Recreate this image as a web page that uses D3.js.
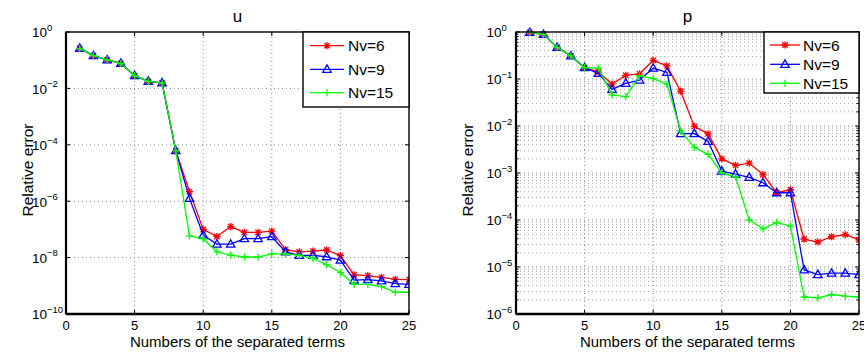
<!DOCTYPE html>
<html>
<head>
<meta charset="utf-8">
<script src="https://cdn.jsdelivr.net/npm/d3@7"></script>
<style>
  html, body { margin: 0; padding: 0; background: #fff; }
  svg { display: block; }
  text { font-family: "Liberation Sans", Arial, Helvetica, sans-serif; fill: #000; }
</style>
</head>
<body>
<svg id="chart" width="864" height="352"></svg>
<script>
// ---------------- data ----------------
const terms = [1,2,3,4,5,6,7,8,9,10,11,12,13,14,15,16,17,18,19,20,21,22,23,24,25];
const seriesNames = ["Nv=6", "Nv=9", "Nv=15"];
const seriesColors = ["#ff0000", "#0000ff", "#00ff00"];
const seriesMarkers = ["star", "triangle", "plus"];

// panel u
const uNv6  = [0.264,0.145,0.102,0.0776,0.0282,0.0178,0.0158,6.2e-5,2.2e-6,1.0e-7,5.6e-8,1.26e-7,7.9e-8,7.9e-8,8.7e-8,1.9e-8,1.6e-8,1.7e-8,1.86e-8,1.17e-8,2.45e-9,2.3e-9,2.0e-9,1.7e-9,1.66e-9];
const uNv9  = [0.264,0.145,0.102,0.0776,0.0282,0.0178,0.0158,6.2e-5,1.26e-6,6.3e-8,3.0e-8,3.0e-8,4.7e-8,4.7e-8,5.5e-8,1.6e-8,1.2e-8,1.2e-8,1.07e-8,8.1e-9,1.6e-9,1.66e-9,1.5e-9,1.2e-9,1.12e-9];
const uNv15 = [0.264,0.145,0.102,0.0776,0.0282,0.0178,0.0158,6.2e-5,5.9e-8,4.6e-8,1.6e-8,1.23e-8,1.05e-8,1.05e-8,1.35e-8,1.35e-8,1.2e-8,9.3e-9,5.6e-9,2.95e-9,1.12e-9,1.12e-9,9.3e-10,5.9e-10,5.9e-10];

// panel p
const pNv6  = [0.98,0.89,0.47,0.31,0.174,0.141,0.078,0.12,0.129,0.25,0.19,0.055,0.0098,0.0068,0.002,0.00145,0.00162,0.00093,0.00038,0.00044,3.9e-5,3.4e-5,4.4e-5,4.9e-5,3.8e-5];
const pNv9  = [0.98,0.89,0.47,0.31,0.174,0.132,0.060,0.081,0.095,0.17,0.138,0.0069,0.0069,0.0047,0.0011,0.00095,0.00081,0.00062,0.00038,0.00038,8.7e-6,6.9e-6,7.4e-6,7.4e-6,6.9e-6];
const pNv15 = [0.98,0.89,0.47,0.31,0.174,0.17,0.046,0.042,0.117,0.102,0.078,0.0079,0.0035,0.0025,0.001,0.00083,0.0001,6.5e-5,8.9e-5,7.4e-5,2.3e-6,2.2e-6,2.6e-6,2.4e-6,2.3e-6];

const xTicks = [0,5,10,15,20,25];
const uYTickExps = [0,-2,-4,-6,-8,-10];
const pYTickExps = [0,-1,-2,-3,-4,-5,-6];
const titles = ["u", "p"];
const xLabel = "Numbers of the separated terms";
const yLabel = "Relative error";

// ---------------- layout ----------------
const svg = d3.select("#chart");

const panels = [
  { title: titles[0], series: [uNv6, uNv9, uNv15], yDomain: [1e-10, 1], yExps: uYTickExps,
    x0: 66, x1: 409, y0: 314, y1: 32, minorGrid: false, labelDx: -34, yLabelX: 33,
    legend: { x: 303, y: 32, w: 106, h: 75, rows: [45.7, 69.3, 92.7], lx0: 310, lx1: 344, tx: 348 } },
  { title: titles[1], series: [pNv6, pNv9, pNv15], yDomain: [1e-6, 1], yExps: pYTickExps,
    x0: 516, x1: 859, y0: 314, y1: 32, minorGrid: true, labelDx: -29.5, yLabelX: 473,
    legend: { x: 764, y: 32, w: 95, h: 61, rows: [45, 64.3, 83.3], lx0: 770, lx1: 800, tx: 803 } }
];

function drawMarker(g, type, x, y, color) {
  const s = 3.6;
  let d;
  if (type === "star") {
    const k = s * 0.75;
    d = `M${x - s},${y}L${x + s},${y}M${x},${y - s}L${x},${y + s}M${x - k},${y - k}L${x + k},${y + k}M${x - k},${y + k}L${x + k},${y - k}`;
  } else if (type === "triangle") {
    d = `M${x},${y - 4.4}L${x + 4.2},${y + 3}L${x - 4.2},${y + 3}Z`;
  } else {
    d = `M${x - s},${y}L${x + s},${y}M${x},${y - s}L${x},${y + s}`;
  }
  g.append("path").attr("d", d).attr("fill", "none")
    .attr("stroke", color).attr("stroke-width", 1.3);
}

panels.forEach((P, pi) => {
  const x = d3.scaleLinear().domain([0, 25]).range([P.x0, P.x1]);
  const y = d3.scaleLog().domain(P.yDomain).range([P.y0, P.y1]);
  const g = svg.append("g");

  // minor grid (p panel)
  if (P.minorGrid) {
    const minors = [];
    for (let e = P.yExps[P.yExps.length - 1]; e < 0; e++) {
      for (let k = 2; k <= 9; k++) minors.push(k * Math.pow(10, e));
    }
    g.selectAll(".mg").data(minors).enter().append("line")
      .attr("x1", P.x0).attr("x2", P.x1)
      .attr("y1", d => y(d)).attr("y2", d => y(d))
      .attr("stroke", "#a8a8a8").attr("stroke-width", 1)
      .attr("stroke-dasharray", "1,3");
    minors.forEach(v => {
      g.append("line").attr("x1", P.x0).attr("x2", P.x0 + 2.5).attr("y1", y(v)).attr("y2", y(v)).attr("stroke", "#000");
      g.append("line").attr("x1", P.x1).attr("x2", P.x1 - 2.5).attr("y1", y(v)).attr("y2", y(v)).attr("stroke", "#000");
    });
  }

  // major grid
  xTicks.filter(t => t > 0 && t < 25).forEach(t => {
    g.append("line").attr("x1", x(t)).attr("x2", x(t)).attr("y1", P.y0).attr("y2", P.y1)
      .attr("stroke", "#8a8a8a").attr("stroke-width", 1).attr("stroke-dasharray", "1,3");
  });
  P.yExps.filter(e => e < 0 && Math.pow(10, e) > P.yDomain[0]).forEach(e => {
    const yy = y(Math.pow(10, e));
    g.append("line").attr("x1", P.x0).attr("x2", P.x1).attr("y1", yy).attr("y2", yy)
      .attr("stroke", "#8a8a8a").attr("stroke-width", 1).attr("stroke-dasharray", "1,3");
  });

  // major ticks (inward)
  xTicks.forEach(t => {
    g.append("line").attr("x1", x(t)).attr("x2", x(t)).attr("y1", P.y0).attr("y2", P.y0 - 4).attr("stroke", "#000");
    g.append("line").attr("x1", x(t)).attr("x2", x(t)).attr("y1", P.y1).attr("y2", P.y1 + 4).attr("stroke", "#000");
  });
  P.yExps.forEach(e => {
    const yy = y(Math.pow(10, e));
    g.append("line").attr("x1", P.x0).attr("x2", P.x0 + 4).attr("y1", yy).attr("y2", yy).attr("stroke", "#000");
    g.append("line").attr("x1", P.x1).attr("x2", P.x1 - 4).attr("y1", yy).attr("y2", yy).attr("stroke", "#000");
  });

  // series lines and markers
  const clipId = "clip" + pi;
  svg.append("clipPath").attr("id", clipId).append("rect")
    .attr("x", P.x0).attr("y", P.y1 - 5).attr("width", P.x1 - P.x0).attr("height", P.y0 - P.y1 + 5);
  const gs = g.append("g").attr("clip-path", `url(#${clipId})`);
  const line = d3.line().x((d, i) => x(terms[i])).y(d => y(d));
  P.series.forEach((vals, si) => {
    gs.append("path").attr("d", line(vals)).attr("fill", "none")
      .attr("stroke", seriesColors[si]).attr("stroke-width", 1.3).attr("stroke-linejoin", "round");
    vals.forEach((v, i) => drawMarker(gs, seriesMarkers[si], x(terms[i]), y(v), seriesColors[si]));
  });

  // frame
  g.append("rect").attr("x", P.x0).attr("y", P.y1).attr("width", P.x1 - P.x0).attr("height", P.y0 - P.y1)
    .attr("fill", "none").attr("stroke", "#000").attr("stroke-width", 1.4);
  g.append("line").attr("x1", P.x0).attr("x2", P.x1).attr("y1", P.y0).attr("y2", P.y0)
    .attr("stroke", "#000").attr("stroke-width", 2.6);
  g.append("line").attr("x1", P.x0).attr("x2", P.x0).attr("y1", P.y1).attr("y2", P.y0)
    .attr("stroke", "#000").attr("stroke-width", 2.2);

  // x tick labels
  xTicks.forEach(t => {
    g.append("text").attr("x", x(t)).attr("y", 330).attr("text-anchor", "middle")
      .attr("font-size", 13).text(t);
  });
  // y tick labels 10^e
  P.yExps.forEach(e => {
    const yy = y(Math.pow(10, e));
    const tx = g.append("text").attr("x", P.x0 + P.labelDx).attr("y", yy + 5.3).attr("font-size", 13.5);
    tx.append("tspan").text("10");
    tx.append("tspan").attr("dy", -6.5).attr("font-size", 9.5).text(e === 0 ? "0" : "\u2212" + Math.abs(e));
  });

  // axis labels & title
  g.append("text").attr("x", (P.x0 + P.x1) / 2).attr("y", 347).attr("text-anchor", "middle")
    .attr("font-size", 15).text(xLabel);
  g.append("text").attr("transform", `translate(${P.yLabelX},${(P.y0 + P.y1) / 2 - 3}) rotate(-90)`)
    .attr("text-anchor", "middle").attr("font-size", 15.5).text(yLabel);
  g.append("text").attr("x", (P.x0 + P.x1) / 2).attr("y", 22).attr("text-anchor", "middle")
    .attr("font-size", 17).text(P.title);

  // legend
  const L = P.legend;
  const gl = g.append("g");
  gl.append("rect").attr("x", L.x).attr("y", L.y).attr("width", L.w).attr("height", L.h)
    .attr("fill", "#fff").attr("stroke", "#000").attr("stroke-width", 1.4);
  seriesNames.forEach((name, si) => {
    const ry = L.rows[si];
    gl.append("line").attr("x1", L.lx0).attr("x2", L.lx1).attr("y1", ry).attr("y2", ry)
      .attr("stroke", seriesColors[si]).attr("stroke-width", 1.3);
    drawMarker(gl, seriesMarkers[si], (L.lx0 + L.lx1) / 2, ry, seriesColors[si]);
    gl.append("text").attr("x", L.tx).attr("y", ry + 5.5).attr("font-size", 15.5).text(name);
  });
});
</script>
</body>
</html>
